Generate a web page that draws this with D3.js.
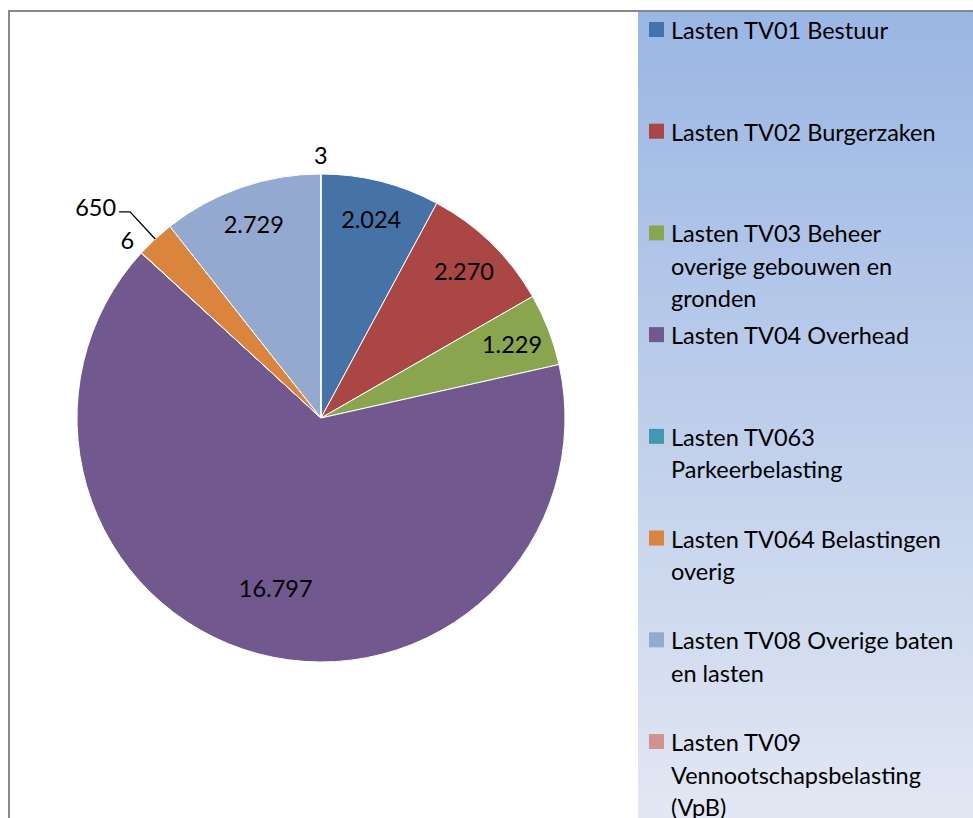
<!DOCTYPE html>
<html>
<head>
<meta charset="utf-8">
<script src="https://cdn.jsdelivr.net/npm/d3@7"></script>
<style>
body{margin:0;background:#fff}
text{font-family:Lato,"Open Sans",sans-serif;fill:#000}
</style>
</head>
<body>
<script>
// values (in thousands)
var categories=["Lasten TV01 Bestuur","Lasten TV02 Burgerzaken","Lasten TV03 Beheer overige gebouwen en gronden","Lasten TV04 Overhead","Lasten TV063 Parkeerbelasting","Lasten TV064 Belastingen overig","Lasten TV08 Overige baten en lasten","Lasten TV09 Vennootschapsbelasting (VpB)"]
var values=[2024,2270,1229,16797,6,650,2729,3]
var colors=["#4572a7","#aa4643","#89a54e","#71588f","#4198af","#db843d","#93a9cf","#d19392"]

var W=973,H=818
var cx=321,cy=418,r=244
var fontSize=23.5
var wrapWidth=285

var nl=d3.formatLocale({decimal:",",thousands:".",grouping:[3],currency:["€",""]})
var fmt=nl.format(",d")

var svg=d3.select("body").append("svg").attr("width",W).attr("height",H)

// chart border
svg.append("rect").attr("x",9).attr("y",11).attr("width",1200).attr("height",1200)
    .style("fill","#fff").style("stroke","#888").style("stroke-width",2)

// legend background
var grad=svg.append("defs").append("linearGradient").attr("id","lg")
    .attr("x1",0).attr("y1",0).attr("x2",0).attr("y2",1)
grad.append("stop").attr("offset","0%").attr("stop-color","#9ab6e3")
grad.append("stop").attr("offset","100%").attr("stop-color","#e2e7f3")
svg.append("rect").attr("x",638).attr("y",12).attr("width",W-638).attr("height",H-12)
    .style("fill","url(#lg)")

var pie=d3.pie().sort(null).value(function(d){return d})
var arcs=pie(values)
var arc=d3.arc().innerRadius(0).outerRadius(r)
var total=d3.sum(values)

var g=svg.append("g").attr("transform","translate("+cx+","+cy+")")
g.selectAll("path").data(arcs).enter().append("path")
    .attr("d",arc)
    .style("fill",function(d,i){return colors[i]})
    .style("stroke","#fff").style("stroke-width",1)

function pt(a,rad){return [Math.sin(a)*rad,-Math.cos(a)*rad]}

arcs.forEach(function(d,i){
    var frac=d.value/total
    var mid=(d.startAngle+d.endAngle)/2
    var txt=fmt(d.value)
    if (frac<0.001){
        var p=pt(d.startAngle,r+19)
        g.append("text").attr("x",p[0]).attr("y",p[1]).attr("text-anchor","middle")
            .attr("dominant-baseline","central").style("font-size",fontSize+"px").text(txt)
    } else if (frac<0.04){
        var p0=pt(mid,r),p1=pt(mid,r+37)
        g.append("path").attr("d","M"+p0+"L"+p1+"L"+[p1[0]-11,p1[1]])
            .style("fill","none").style("stroke","#000").style("stroke-width",1.3)
        g.append("text").attr("x",p1[0]-14).attr("y",p1[1]-5).attr("text-anchor","end")
            .attr("dominant-baseline","central").style("font-size",fontSize+"px").text(txt)
    } else {
        var rr=frac>0.5?r*0.72:r*0.84
        var p=pt(mid,rr)
        g.append("text").attr("x",p[0]).attr("y",p[1]).attr("text-anchor","middle")
            .attr("dominant-baseline","central").style("font-size",fontSize+"px").text(txt)
    }
})

// legend
var ly=d3.scalePoint().domain(categories).range([30,742])
var leg=svg.selectAll("g.leg").data(categories).enter().append("g").attr("class","leg")
    .attr("transform",function(d){return "translate(649,"+ly(d)+")"})
leg.append("rect").attr("x",0).attr("y",-8).attr("width",15).attr("height",15)
    .style("fill",function(d,i){return colors[i]})
leg.each(function(d){
    var t=d3.select(this).append("text").attr("x",22).style("font-size",fontSize+"px")
    var words=d.split(" "),line=[],lines=[]
    var probe=t.append("tspan")
    words.forEach(function(w){
        line.push(w)
        probe.text(line.join(" "))
        if (probe.node().getComputedTextLength()>wrapWidth && line.length>1){
            line.pop();lines.push(line.join(" "));line=[w]
        }
    })
    lines.push(line.join(" "))
    probe.remove()
    lines.forEach(function(l,k){
        t.append("tspan").attr("x",22).attr("y",k*32.5).attr("dominant-baseline","central").text(l)
    })
})
</script>
</body>
</html>
